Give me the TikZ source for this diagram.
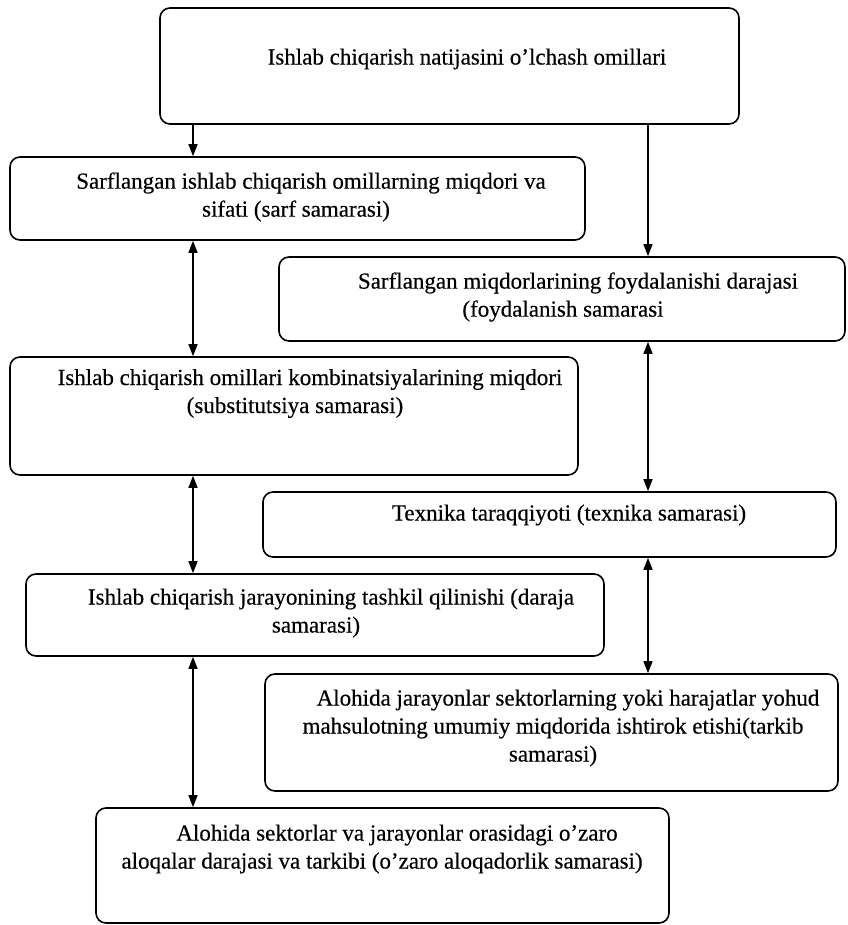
\documentclass[tikz,border=0pt]{standalone}
\usepackage{fontspec}
\setmainfont{Liberation Serif}[FakeBold=0.4]
\usetikzlibrary{arrows.meta}
\newcommand\myind{\hspace*{30pt}}
\begin{document}
\begin{tikzpicture}[x=1pt,y=-1pt,
 box/.style={draw, line width=1.6pt, rounded corners=10pt, inner sep=0pt},
 txt/.style={align=center, inner sep=0pt, font=\fontsize{23}{28}\selectfont},
 arr/.style={line width=1.4pt, -{Triangle[length=12pt,width=9pt]}},
 darr/.style={line width=1.4pt, {Triangle[length=12pt,width=9pt]}-{Triangle[length=12pt,width=9pt]}}]
\useasboundingbox (0,0) rectangle (847,925);
\coordinate (lx) at (193,0);
\coordinate (rx) at (648,0);
% boxes
\node[box, minimum width=579pt, minimum height=116pt] (b1) at (449.5,66) {};
\node[box, minimum width=575pt, minimum height=83pt] (b2) at (297.5,198.5) {};
\node[box, minimum width=566pt, minimum height=84pt] (b3) at (562,299) {};
\node[box, minimum width=568pt, minimum height=118pt] (b4) at (294,416) {};
\node[box, minimum width=573pt, minimum height=65pt] (b5) at (549.5,524.5) {};
\node[box, minimum width=578pt, minimum height=82pt] (b6) at (315,615) {};
\node[box, minimum width=573pt, minimum height=117pt] (b7) at (551.5,732.5) {};
\node[box, minimum width=573pt, minimum height=115pt] (b8) at (382.5,865.5) {};
% texts
\node[txt] (t1) at (467,59) {Ishlab chiqarish natijasini o’lchash omillari};
\node[txt] (t2) at (296,197) {\myind Sarflangan ishlab chiqarish omillarning miqdori va\\sifati (sarf samarasi)};
\node[txt] (t3) at (563,297) {\myind Sarflangan miqdorlarining foydalanishi darajasi\\(foydalanish samarasi};
\node[txt] (t4) at (295,393.5) {\myind Ishlab chiqarish omillari kombinatsiyalarining miqdori\\(substitutsiya samarasi)};
\node[txt] (t5) at (569,515) {Texnika taraqqiyoti (texnika samarasi)};
\node[txt] (t6) at (316,613) {\myind Ishlab chiqarish jarayonining tashkil qilinishi (daraja\\samarasi)};
\node[txt] (t7) at (553,728) {\myind Alohida jarayonlar sektorlarning yoki harajatlar yohud\\mahsulotning umumiy miqdorida ishtirok etishi(tarkib\\samarasi)};
\node[txt] (t8) at (382,849) {\myind Alohida sektorlar va jarayonlar orasidagi o’zaro\\aloqalar darajasi va tarkibi (o’zaro aloqadorlik samarasi)};
% connectors
\draw[arr] (b1.south -| lx) -- (b2.north -| lx);
\draw[arr] (b1.south -| rx) -- (b3.north -| rx);
\draw[darr] (b2.south -| lx) -- (b4.north -| lx);
\draw[darr] (b3.south -| rx) -- (b5.north -| rx);
\draw[darr] (b4.south -| lx) -- (b6.north -| lx);
\draw[darr] (b5.south -| rx) -- (b7.north -| rx);
\draw[darr] (b6.south -| lx) -- (b8.north -| lx);
\end{tikzpicture}
\end{document}
